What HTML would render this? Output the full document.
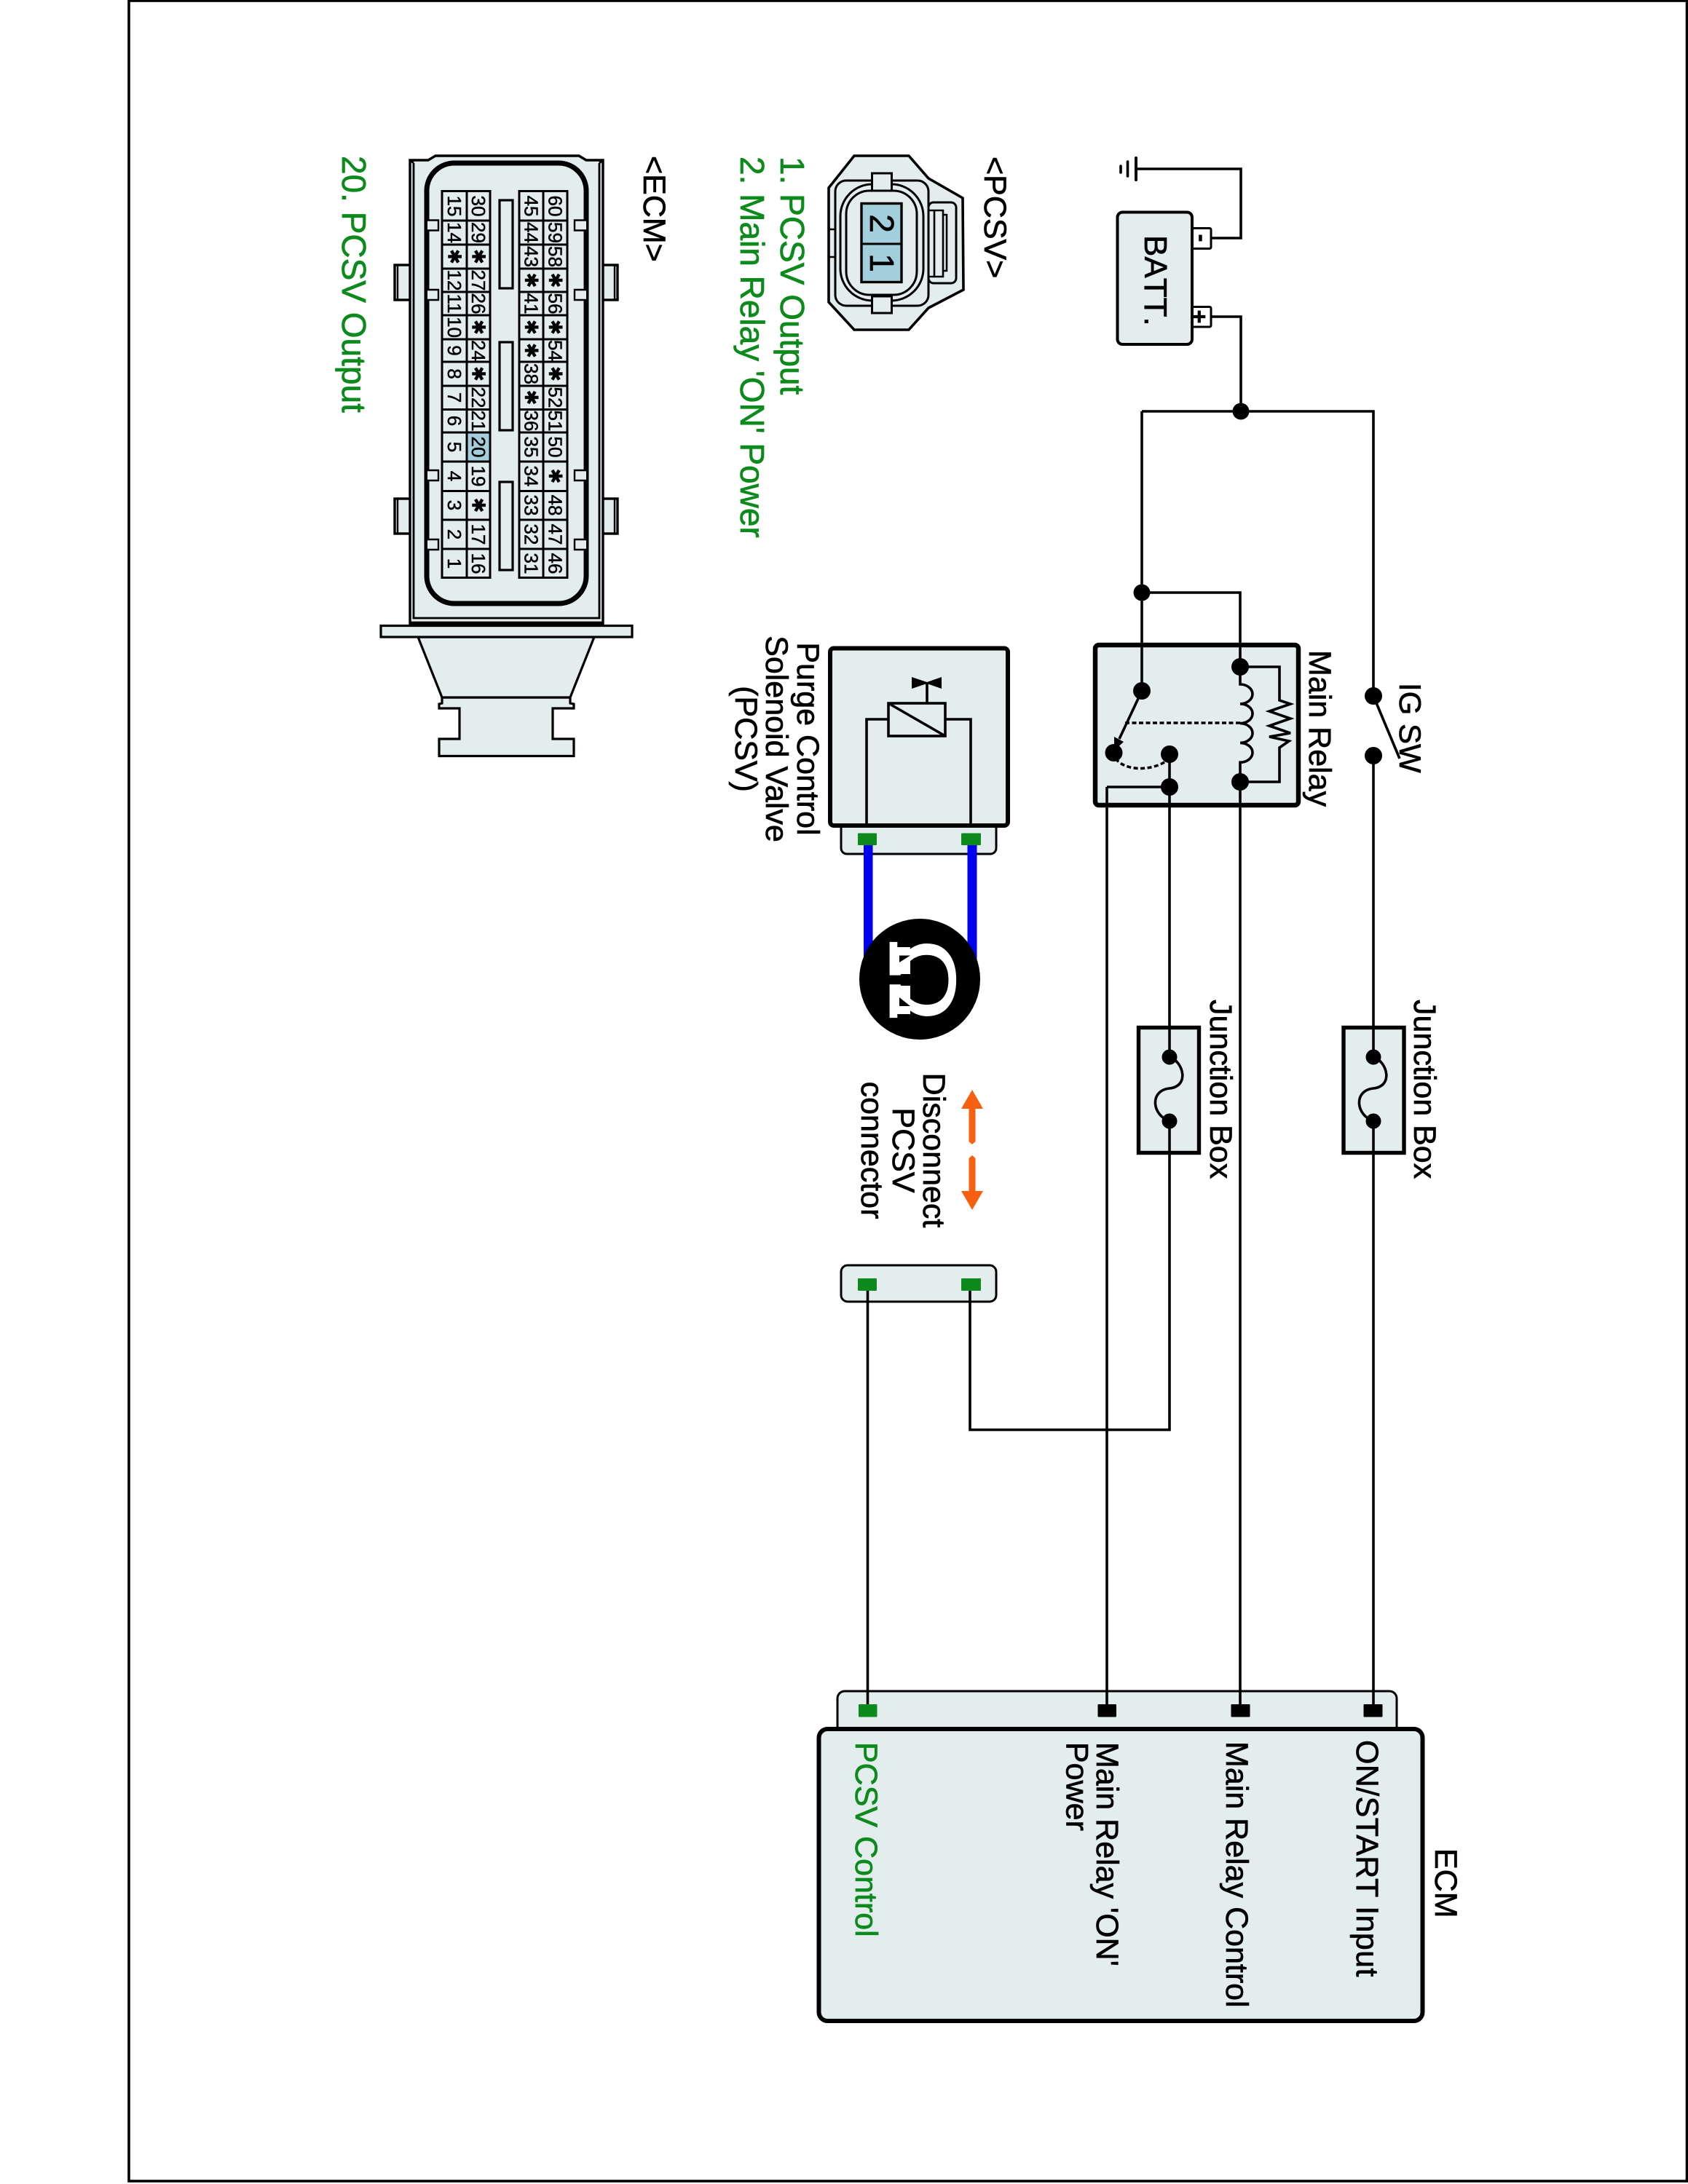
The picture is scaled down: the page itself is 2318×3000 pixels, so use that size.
<!DOCTYPE html>
<html><head><meta charset="utf-8"><title>PCSV circuit diagram</title>
<style>
html,body{margin:0;padding:0;background:#fff}
svg{display:block}
text{font-family:"Liberation Sans",sans-serif;fill:#000;font-size:43px;stroke:#000;stroke-width:.7px}
.g{fill:#0c8a1c;stroke:#0c8a1c}
.l{font-size:46px}
.c text{font-size:26px;text-anchor:middle;dominant-baseline:central;stroke-width:.5px}
.c text.a{font-family:"DejaVu Sans",sans-serif;font-size:25px}
.m{text-anchor:middle}
.w{fill:none;stroke:#000;stroke-width:3.6}
.f{fill:#e4edee;stroke:#000}
.n{fill:none;stroke:#000}
</style></head><body>
<svg xmlns="http://www.w3.org/2000/svg" width="2318" height="3000" viewBox="0 0 2318 3000">
<rect width="2318" height="3000" fill="#fff"/>
<rect x="177" y="1" width="2139.500" height="2995" fill="none" stroke="#000" stroke-width="3.6"/>

<!-- ground & battery -->
<g class="n" stroke-width="3.600" stroke-linecap="round">
<path d="M1560 232H1704V327H1663"/><path d="M1663 435H1704V565"/>
<path d="M1560 217V247" stroke-width="4"/><path d="M1548.500 222V242" stroke-width="3.6"/><path d="M1539 228V237" stroke-width="3.6"/>
</g>
<rect class="f" x="1637" y="313.500" width="26" height="28" rx="2" style="fill:#fff" stroke-width="3"/>
<rect class="f" x="1637" y="421.500" width="26" height="27.500" rx="2" style="fill:#fff" stroke-width="3"/>
<rect class="f" x="1534.500" y="291.500" width="102.500" height="181.500" rx="7" stroke-width="4"/>
<text transform="translate(1572,323) rotate(90)" style="font-size:44px;font-kerning:none">BATT.</text>
<text class="m" transform="translate(1651,327) rotate(90)" style="font-size:32px;font-weight:bold;dominant-baseline:central">-</text>
<text class="m" transform="translate(1647,435) rotate(90)" style="font-size:32px;font-weight:bold;dominant-baseline:central">+</text>

<!-- main wires -->
<g class="w">
<path d="M1568 565H1886V956"/>
<path d="M1568 565V949"/>
<path d="M1568 814H1703V916"/>
<path d="M1886 1038V2345"/>
<path d="M1703 1074V2345"/>
<path d="M1520 2345V1081H1606"/>
<path d="M1606 1036V1964H1332V1770"/>
<path d="M1191.500 1770V2345"/>
</g>
<circle cx="1704" cy="565" r="11.500"/><circle cx="1568" cy="814" r="11.500"/>

<!-- Relay -->
<rect class="f" x="1504" y="886" width="279" height="220" rx="5" stroke-width="6.500"/>
<g class="w">
<path d="M1568 886V949"/><path d="M1703 886V916"/>
<path d="M1703 916V940a17 13.400 0 0 1 0 26.800a17 13.400 0 0 1 0 26.800a17 13.400 0 0 1 0 26.800a17 13.400 0 0 1 0 26.800V1074"/>
<path d="M1703 916H1757V962L1772 967L1743 977L1772 987L1743 997L1772 1007L1743 1012L1770 1018L1757 1027V1074H1703"/>
<path d="M1568 949L1537 1015"/>
<path d="M1606 1036V1106"/><path d="M1520 1081H1606"/><path d="M1520 1106V1081"/><path d="M1703 1074V1106"/>
<path d="M1545 993H1710" stroke-dasharray="6 3.500"/>
<path d="M1532 1042C1545 1060 1585 1060 1606 1042" stroke-dasharray="6 3.500"/>
</g>
<polygon points="1530,1012 1543,1019 1530,1031"/>
<circle cx="1568" cy="949" r="12"/><circle cx="1703" cy="916" r="12"/><circle cx="1703" cy="1074" r="12"/>
<circle cx="1529.500" cy="1034" r="12"/><circle cx="1606" cy="1036" r="12"/><circle cx="1606" cy="1081" r="12"/>
<text transform="translate(1798,893) rotate(90)">Main Relay</text>

<!-- IG SW -->
<circle cx="1886" cy="956" r="12"/><circle cx="1886" cy="1038" r="12"/>
<path class="w" d="M1886 956L1922 1042"/>
<text transform="translate(1922,938) rotate(90)" style="font-size:42px">IG SW</text>

<!-- Junction boxes -->
<rect class="f" x="1563.500" y="1411.500" width="83" height="172" stroke-width="5.400"/>
<rect class="f" x="1845" y="1411.500" width="83" height="172" stroke-width="5.400"/>
<g class="w">
<path d="M1606 1412V1452M1606 1540V1584M1886 1412V1452M1886 1540V1584"/>
<path d="M1606 1452C1625 1458 1634 1492 1606 1495C1578 1498 1582 1532 1606 1540"/>
<path d="M1886 1452C1905 1458 1914 1492 1886 1495C1858 1498 1862 1532 1886 1540"/>
</g>
<circle cx="1606" cy="1452" r="10.500"/><circle cx="1606" cy="1540" r="10.500"/><circle cx="1886" cy="1452" r="10.500"/><circle cx="1886" cy="1540" r="10.500"/>
<text transform="translate(1662,1373) rotate(90)">Junction Box</text>
<text transform="translate(1942,1373) rotate(90)">Junction Box</text>

<!-- PCSV component -->
<rect class="f" x="1155" y="1125" width="213" height="48" rx="8" stroke-width="3"/>
<rect class="f" x="1140" y="890.500" width="244" height="243.500" rx="5" stroke-width="6"/>
<g class="w">
<path d="M1190 1134V988H1220"/><path d="M1333 1134V988H1298"/>
<rect x="1220" y="966" width="78" height="45" style="fill:#e4edee"/>
<path d="M1220 966L1298 1011"/><path d="M1273 966V938"/>
</g>
<polygon points="1252,930 1273,937 1293,930 1293,946 1273,939 1252,946"/>
<rect x="1186" y="1160" width="12.500" height="160" fill="#0000ee"/>
<rect x="1328.500" y="1160" width="13" height="160" fill="#0000ee"/>
<rect x="1178" y="1144.500" width="26" height="16.500" rx="1" fill="#0c8a1c"/>
<rect x="1320" y="1144.500" width="27" height="16.500" rx="1" fill="#0c8a1c"/>
<circle cx="1263" cy="1345" r="83"/>
<text class="m" transform="translate(1222,1346) rotate(90) scale(1.2,1)" style="font-size:130px;fill:#fff;stroke:#fff;stroke-width:.8px">Ω</text>
<rect x="1222" y="1301" width="28" height="37" fill="#fff"/>
<rect x="1222" y="1354" width="28" height="39" fill="#fff"/>
<polygon points="1235,1312.500 1250,1312.500 1235,1322"/>
<polygon points="1235,1382 1250,1382 1235,1370"/>
<text class="m" transform="translate(1095,1015) rotate(90)">Purge Control</text>
<text class="m" transform="translate(1052,1015) rotate(90)">Solenoid Valve</text>
<text class="m" transform="translate(1010,1015) rotate(90)">(PCSV)</text>

<!-- Disconnect arrows -->
<polygon points="1335,1497 1350,1523 1339.500,1523 1339.500,1568 1335,1572 1330.500,1568 1330.500,1523 1320,1523" fill="#f76011"/>
<polygon points="1335,1662 1350,1636 1339.500,1636 1339.500,1591 1335,1587 1330.500,1591 1330.500,1636 1320,1636" fill="#f76011"/>
<text class="m" transform="translate(1268,1580) rotate(90)">Disconnect</text>
<text class="m" transform="translate(1226,1580) rotate(90)">PCSV</text>
<text class="m" transform="translate(1183,1580) rotate(90)">connector</text>

<!-- Lower connector -->
<rect class="f" x="1155" y="1738" width="213" height="50" rx="9" stroke-width="3"/>
<rect x="1178" y="1756" width="26" height="17" rx="1" fill="#0c8a1c"/>
<rect x="1320" y="1756" width="27" height="17" rx="1" fill="#0c8a1c"/>
<path class="w" d="M1191.500 1773V1790M1332 1773V1790"/>

<!-- ECM -->
<rect class="f" x="1150" y="2323" width="768" height="70" rx="10" stroke-width="3"/>
<rect class="f" x="1124.500" y="2375" width="829" height="401" rx="12" stroke-width="6"/>
<path class="w" d="M1191.500 2323V2345M1520 2323V2345M1703 2323V2345M1886 2323V2345"/>
<rect x="1179" y="2341" width="25.500" height="17.500" rx="1" fill="#0c8a1c"/>
<rect x="1507.500" y="2341" width="25.500" height="17.500" rx="1"/>
<rect x="1690.500" y="2341" width="26" height="17.500" rx="1"/>
<rect x="1872.500" y="2341" width="26" height="17.500" rx="1"/>
<text class="g" transform="translate(1175,2393) rotate(90)">PCSV Control</text>
<text transform="translate(1506,2393) rotate(90)">Main Relay 'ON'</text>
<text transform="translate(1464.500,2393) rotate(90)">Power</text>
<text transform="translate(1684,2392) rotate(90)">Main Relay Control</text>
<text transform="translate(1863,2390) rotate(90)" style="letter-spacing:.4px">ON/START Input</text>
<text transform="translate(1971,2539) rotate(90)">ECM</text>

<!-- PCSV connector view -->
<polygon class="f" stroke-width="3.600" points="1173,214 1248,214 1275,245 1322,272 1323,398 1275,423 1248,453 1173,453 1138,415 1138,258"/>
<rect class="n" x="1275" y="278" width="38" height="111" rx="7" stroke-width="3"/>
<path class="n" stroke-width="2.600" d="M1275 289H1295V295H1300V372H1295V380H1275M1283 289V380M1295 295V372"/>
<rect class="f" x="1147" y="248" width="128" height="172" rx="15" stroke-width="3"/>
<rect class="f" x="1154" y="253" width="114" height="160" rx="44" stroke-width="3"/>
<rect class="f" x="1162" y="262" width="97" height="143" rx="32" stroke-width="3"/>
<rect class="f" x="1197.500" y="238" width="27" height="24" stroke-width="3"/>
<rect class="f" x="1197.500" y="407" width="27" height="23" stroke-width="3"/>
<path class="n" stroke-width="2.600" d="M1138 315H1147M1138 353H1147"/>
<rect x="1183" y="279.500" width="55" height="108" fill="#a3cfdc" stroke="#000" stroke-width="3.400"/>
<path class="n" stroke-width="3" d="M1183 335H1238"/>
<text class="m" transform="translate(1195,307) rotate(90)" style="font-size:46px">2</text>
<text class="m" transform="translate(1195,361) rotate(90)" style="font-size:46px">1</text>
<text transform="translate(1352,215) rotate(90)">&lt;PCSV&gt;</text>
<text class="g l" transform="translate(1072,215) rotate(90)">1. PCSV Output</text>
<text class="g l" transform="translate(1017,215) rotate(90)">2. Main Relay 'ON' Power</text>

<!-- ECM connector view -->
<polygon class="f" stroke-width="3.200" points="607,958 607,966 603,967 603,973 631,973 631,1015 603,1015 603,1038.500 788,1038.500 788,1015 759,1015 759,973 788,973 788,967 783,966 783,958"/>
<polygon class="f" stroke-width="3.200" points="574,875 816,875 783,958 607,958"/>
<rect class="f" x="523" y="859.500" width="345" height="15.500" stroke-width="3.200"/>
<rect class="f" x="542" y="364" width="24" height="48" stroke-width="3.400"/>
<rect class="f" x="542" y="685" width="24" height="48" stroke-width="3.400"/>
<rect class="f" x="824" y="364" width="24" height="48" stroke-width="3.400"/>
<rect class="f" x="824" y="685" width="24" height="48" stroke-width="3.400"/>
<path class="n" stroke-width="2.400" d="M546 364V412M546 685V733M844 364V412M844 685V733"/>
<polygon class="f" stroke-width="3.400" points="563,220 588,220 598,214 795,214 805,220 828,220 828,859 563,859"/>
<path class="n" stroke-width="2.800" d="M568 224V849H823V224M563 220L568 224M828 220L823 224M563 855H828"/>
<path class="n" stroke-width="6" d="M563 857.500H828"/>
<rect class="f" x="586" y="224" width="219" height="605" rx="38" stroke-width="7"/>
<g fill="#e4edee" stroke="#000" stroke-width="2.400">
<path d="M587 302.500H602V316.500H587M587 398H602V412H587M587 646H602V660H587M587 741H602V755H587"/>
<path d="M805 302.500H789V316.500H805M805 398H789V412H805M805 646H789V660H805M805 741H789V755H805"/>
</g>
<g class="f" stroke-width="3.200" fill="#e4edee">
<rect x="686" y="275" width="18" height="121"/><rect x="686" y="470" width="18" height="121"/><rect x="686" y="662" width="18" height="121"/>
</g>
<rect x="641" y="594" width="32" height="40" fill="#a3cfdc"/>
<g class="n" stroke-width="3">
<rect x="607" y="262.500" width="66" height="531"/><rect x="713" y="262.500" width="66" height="531"/>
<path d="M641 262.500V793.500M746 262.500V793.500"/>
<path d="M607 303H673M607 336H673M607 369H673M607 401H673M607 433H673M607 466H673M607 497H673M607 530H673M607 562.500H673M607 594H673M607 634H673M607 674.500H673M607 714H673M607 754H673"/>
<path d="M713 303H779M713 336H779M713 369H779M713 401H779M713 433H779M713 466H779M713 497H779M713 530H779M713 562.500H779M713 594H779M713 634H779M713 674.500H779M713 714H779M713 754H779"/>
</g>
<g class="c">
<text transform="translate(624,283) rotate(90)">15</text><text transform="translate(624,319.500) rotate(90)">14</text><text class="a" transform="translate(624,352.500) rotate(90)">✱</text><text transform="translate(624,385) rotate(90)">12</text><text transform="translate(624,417) rotate(90)">11</text><text transform="translate(624,449.500) rotate(90)">10</text><text transform="translate(624,481.500) rotate(90)">9</text><text transform="translate(624,513.500) rotate(90)">8</text><text transform="translate(624,546) rotate(90)">7</text><text transform="translate(624,578) rotate(90)">6</text><text transform="translate(624,614) rotate(90)">5</text><text transform="translate(624,654) rotate(90)">4</text><text transform="translate(624,694) rotate(90)">3</text><text transform="translate(624,734) rotate(90)">2</text><text transform="translate(624,774) rotate(90)">1</text>
<text transform="translate(657,283) rotate(90)">30</text><text transform="translate(657,319.500) rotate(90)">29</text><text class="a" transform="translate(657,352.500) rotate(90)">✱</text><text transform="translate(657,385) rotate(90)">27</text><text transform="translate(657,417) rotate(90)">26</text><text class="a" transform="translate(657,449.500) rotate(90)">✱</text><text transform="translate(657,481.500) rotate(90)">24</text><text class="a" transform="translate(657,513.500) rotate(90)">✱</text><text transform="translate(657,546) rotate(90)">22</text><text transform="translate(657,578) rotate(90)">21</text><text transform="translate(657,614) rotate(90)">20</text><text transform="translate(657,654) rotate(90)">19</text><text class="a" transform="translate(657,694) rotate(90)">✱</text><text transform="translate(657,734) rotate(90)">17</text><text transform="translate(657,774) rotate(90)">16</text>
<text transform="translate(729.500,283) rotate(90)">45</text><text transform="translate(729.500,319.500) rotate(90)">44</text><text transform="translate(729.500,352.500) rotate(90)">43</text><text class="a" transform="translate(729.500,385) rotate(90)">✱</text><text transform="translate(729.500,417) rotate(90)">41</text><text class="a" transform="translate(729.500,449.500) rotate(90)">✱</text><text class="a" transform="translate(729.500,481.500) rotate(90)">✱</text><text transform="translate(729.500,513.500) rotate(90)">38</text><text class="a" transform="translate(729.500,546) rotate(90)">✱</text><text transform="translate(729.500,578) rotate(90)">36</text><text transform="translate(729.500,614) rotate(90)">35</text><text transform="translate(729.500,654) rotate(90)">34</text><text transform="translate(729.500,694) rotate(90)">33</text><text transform="translate(729.500,734) rotate(90)">32</text><text transform="translate(729.500,774) rotate(90)">31</text>
<text transform="translate(762.500,283) rotate(90)">60</text><text transform="translate(762.500,319.500) rotate(90)">59</text><text transform="translate(762.500,352.500) rotate(90)">58</text><text class="a" transform="translate(762.500,385) rotate(90)">✱</text><text transform="translate(762.500,417) rotate(90)">56</text><text class="a" transform="translate(762.500,449.500) rotate(90)">✱</text><text transform="translate(762.500,481.500) rotate(90)">54</text><text class="a" transform="translate(762.500,513.500) rotate(90)">✱</text><text transform="translate(762.500,546) rotate(90)">52</text><text transform="translate(762.500,578) rotate(90)">51</text><text transform="translate(762.500,614) rotate(90)">50</text><text class="a" transform="translate(762.500,654) rotate(90)">✱</text><text transform="translate(762.500,694) rotate(90)">48</text><text transform="translate(762.500,734) rotate(90)">47</text><text transform="translate(762.500,774) rotate(90)">46</text>
</g>
<text transform="translate(884,214) rotate(90)">&lt;ECM&gt;</text>
<text class="g l" transform="translate(470,214) rotate(90)">20. PCSV Output</text>
</svg>
</body></html>
